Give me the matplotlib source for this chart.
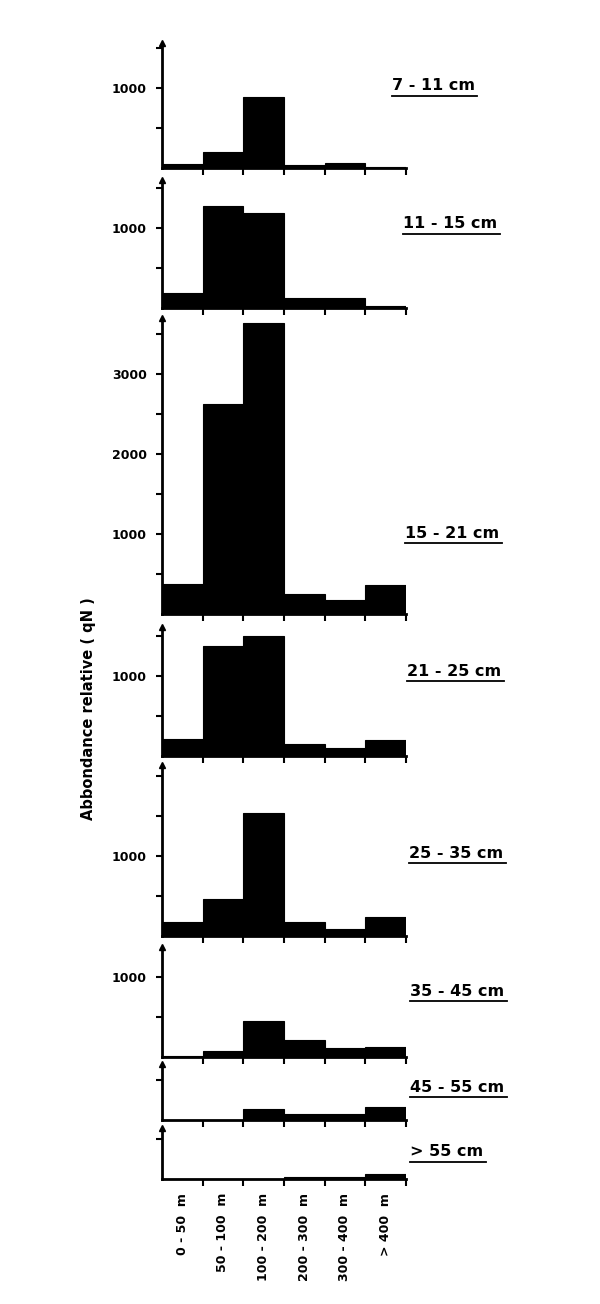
import matplotlib
matplotlib.use("Agg")
import matplotlib.pyplot as plt
from matplotlib.lines import Line2D

# distance classes (x) and size classes (one panel each)
dist_labels = ["0 - 50  m", "50 - 100  m", "100 - 200  m", "200 - 300  m", "300 - 400  m", "> 400  m"]
size_labels = ["7 - 11 cm", "11 - 15 cm", "15 - 21 cm", "21 - 25 cm",
               "25 - 35 cm", "35 - 45 cm", "45 - 55 cm", "> 55 cm"]

v_7_11 = [50, 200, 890, 40, 60, 10]
v_11_15 = [190, 1280, 1190, 130, 120, 30]
v_15_21 = [375, 2625, 3640, 250, 175, 360]
v_21_25 = [210, 1375, 1500, 150, 100, 200]
v_25_35 = [175, 460, 1540, 175, 90, 240]
v_35_45 = [10, 75, 450, 210, 110, 125]
v_45_55 = [0, 0, 135, 75, 75, 165]
v_55 = [0, 0, 0, 30, 30, 60]
series = [v_7_11, v_11_15, v_15_21, v_21_25, v_25_35, v_35_45, v_45_55, v_55]

# labelled y ticks per panel
labelled = [[1000], [1000], [1000, 2000, 3000], [1000], [1000], [1000], [], []]

# layout in pixels: (top of axis, baseline)
W, H = 600, 1304
panels_px = [(43, 168), (180, 308), (318, 614), (627, 756),
             (765, 936), (947, 1057), (1064, 1120), (1128, 1179)]
label_px = [(392, 86), (403, 224), (405, 533), (407, 671),
            (409, 853), (410, 991), (410, 1087), (410, 1152)]
px_per_unit = 80 / 1000.0
x0, x1 = 162, 406

fig = plt.figure(figsize=(W / 100, H / 100), dpi=100)
fig.patch.set_facecolor("white")

for i, vals in enumerate(series):
    top, base = panels_px[i]
    ymax = (base - top) / px_per_unit
    ax = fig.add_axes([x0 / W, 1 - base / H, (x1 - x0) / W, (base - top) / H])
    ax.bar(range(6), vals, width=1, align="edge", color="black", edgecolor="black", linewidth=0.8)
    ax.set_xlim(0, 6)
    ax.set_ylim(0, ymax)
    for s in ["top", "right"]:
        ax.spines[s].set_visible(False)
    for s in ["left", "bottom"]:
        ax.spines[s].set_linewidth(2)
    ax.set_xticks(range(1, 7))
    ax.set_xticklabels([])
    ax.tick_params(axis="x", direction="out", length=5, width=1.5)

    yt = [t for t in range(500, 4000, 500) if t < ymax - 20]
    ax.set_yticks(yt)
    ax.set_yticklabels([str(t) if t in labelled[i] else "" for t in yt],
                       fontsize=9, fontweight="bold")
    ax.tick_params(axis="y", direction="out", length=4, width=1.5, pad=7)
    ax.plot(0, 1, marker="^", color="black", markersize=4,
            transform=ax.transAxes, clip_on=False)

    lx, ly = label_px[i]
    t = fig.text(lx / W, 1 - ly / H, size_labels[i], fontsize=11.5, fontweight="bold",
                 va="center", ha="left")
    fig.canvas.draw()
    bb = t.get_window_extent()
    fig.add_artist(Line2D([bb.x0 / W, bb.x1 / W + 0.004],
                          [1 - (ly + 10) / H] * 2, color="black", lw=1.3))

    if i == len(series) - 1:
        ax.set_xticks([k + 0.5 for k in range(6)], minor=True)
        ax.set_xticklabels(dist_labels, minor=True, rotation=90, fontsize=9,
                           fontweight="bold")
        ax.tick_params(axis="x", which="minor", length=0, pad=10)

fig.text(88 / W, 1 - 709 / H, "Abbondance relative ( qN )", rotation=90,
         fontsize=10.5, fontweight="bold", ha="center", va="center")

fig.savefig("out.png", dpi=100)
